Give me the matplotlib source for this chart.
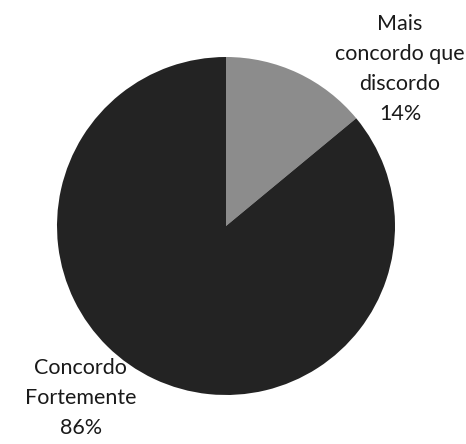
import matplotlib.pyplot as plt

labels = ['Mais\nconcordo que\ndiscordo', 'Concordo\nFortemente']
values = [14, 86]
colors = ['#8c8c8c', '#232323']

plt.rcParams['font.family'] = ['Lato', 'DejaVu Sans']

fig = plt.figure(figsize=(4.66, 4.44), dpi=100)
cx, cy, r = 226, 226, 169
ax = fig.add_axes([(cx - r) / 466, (444 - cy - r) / 444, 2 * r / 466, 2 * r / 444])

ax.pie(values, colors=colors, startangle=90, counterclock=False, radius=1)
ax.set_xlim(-1, 1)
ax.set_ylim(-1, 1)
ax.set_aspect('equal')

label_pos = [(1.03, 0.93), (-0.86, -1.02)]
total = sum(values)
for lab, v, (x, y) in zip(labels, values, label_pos):
    ax.text(x, y, f'{lab}\n{round(100 * v / total)}%', ha='center', va='center',
            fontsize=15.5, color='#1a1a1a', linespacing=1.62, clip_on=False)

fig.savefig('out.png', dpi=100)
